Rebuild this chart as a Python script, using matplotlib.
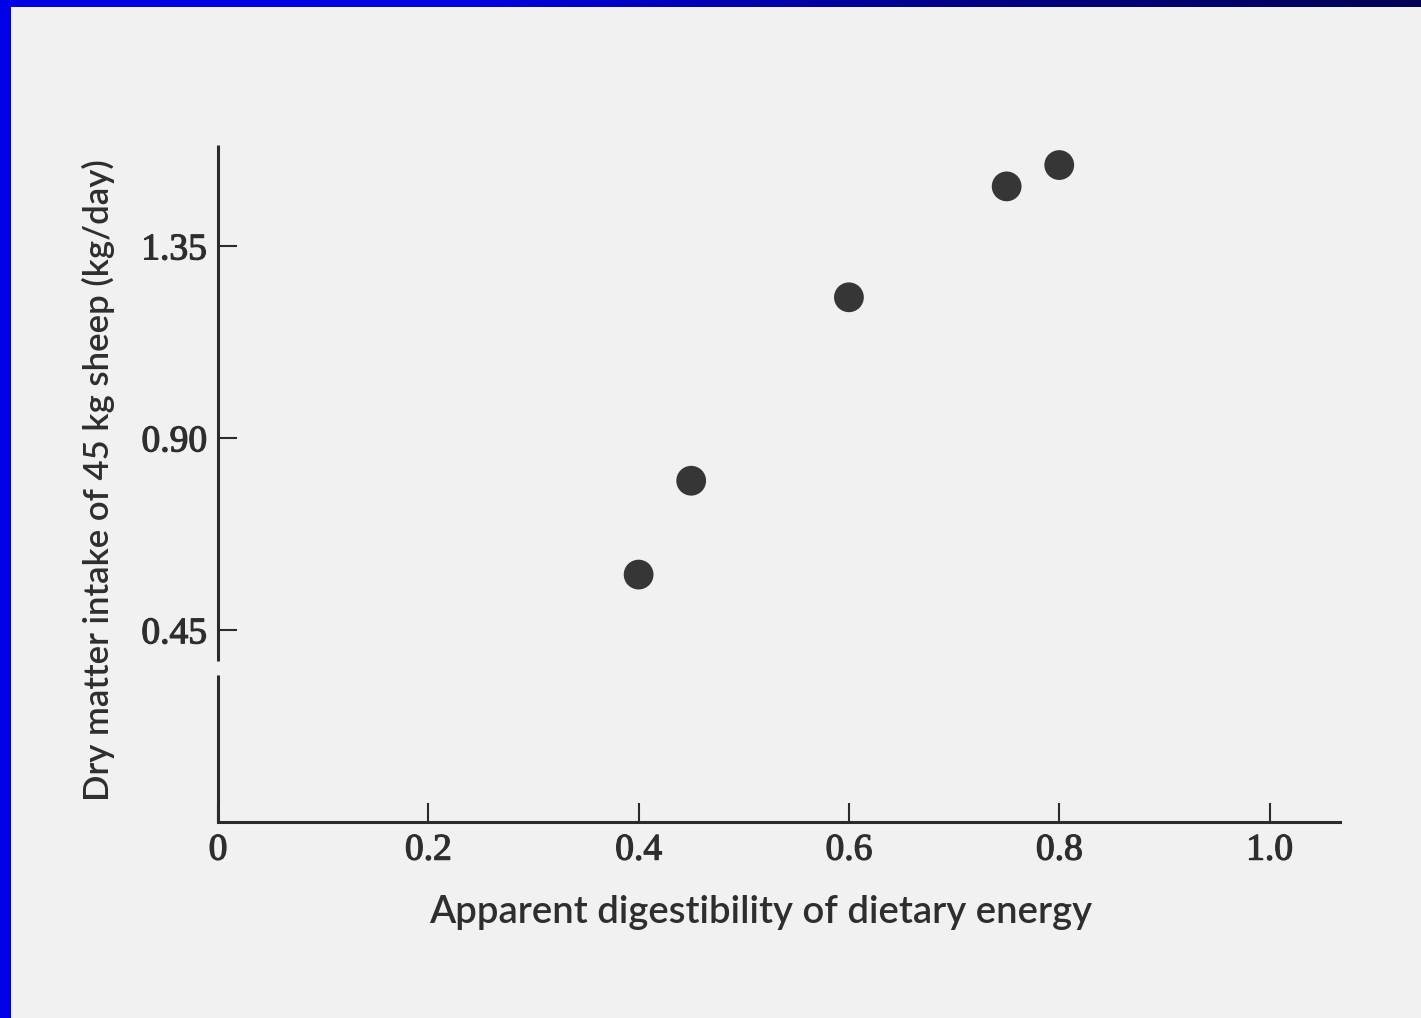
import numpy as np
import matplotlib
matplotlib.use("Agg")
import matplotlib.pyplot as plt
import matplotlib.patheffects as pe

# Digestibility of dietary energy vs. dry matter intake (45 kg sheep)
digestibility = [0.40, 0.45, 0.60, 0.75, 0.80]
intake = [0.58, 0.80, 1.23, 1.49, 1.54]

x_ticks = [0, 0.2, 0.4, 0.6, 0.8, 1.0]
x_tick_labels = ["0", "0.2", "0.4", "0.6", "0.8", "1.0"]
y_ticks = [0.45, 0.90, 1.35]
y_tick_labels = ["0.45", "0.90", "1.35"]

W, H, DPI = 1421, 1018, 100
ink = "#2b2b2b"
paper = "#f1f1f1"

fig = plt.figure(figsize=(W / DPI, H / DPI), dpi=DPI, facecolor=paper)

# slide frame: blue strip on the left and a blue-to-navy strip on top
frame = fig.add_axes([0, 0, 1, 1], zorder=-1)
frame.set_axis_off()
frame.add_patch(plt.Rectangle((0, 0), 11, H, color="#0000e6", lw=0))
grad = np.linspace(0, 1, 256)[None, :]
cmap = matplotlib.colors.LinearSegmentedColormap.from_list(
    "bar", ["#0000e6", "#0000e0", "#00008a", "#000055"])
frame.imshow(grad, extent=(0, W, 7, 0), aspect="auto", cmap=cmap)
frame.set_xlim(0, W)
frame.set_ylim(H, 0)

# plotting area in pixel terms
x0_px, x1_px = 218, 1340
y0_px, y1_px = 822, 145
xmax = 1.067
ymax = 1.587
ax = fig.add_axes([x0_px / W, (H - y0_px) / H,
                   (x1_px - x0_px) / W, (y0_px - y1_px) / H])
ax.set_facecolor("none")
ax.set_xlim(0, xmax)
ax.set_ylim(0, ymax)

ax.scatter(digestibility, intake, s=460, color="#363636", edgecolors="none",
           zorder=3)

for side in ("top", "right", "left"):
    ax.spines[side].set_visible(False)
ax.spines["bottom"].set_linewidth(2.2)
ax.spines["bottom"].set_color(ink)

# broken y axis
ax.plot([0, 0], [0, 0.345], color=ink, lw=2.2, clip_on=False,
        solid_capstyle="butt")
ax.plot([0, 0], [0.378, ymax], color=ink, lw=2.2, clip_on=False,
        solid_capstyle="butt")

thicken = [pe.withStroke(linewidth=0.9, foreground="#2e2e2e")]
num_font = dict(family="Liberation Serif", size=27, color="#2e2e2e")
ax.set_xticks(x_ticks)
ax.set_xticklabels(x_tick_labels, fontdict=num_font, path_effects=thicken)
ax.set_yticks(y_ticks)
ax.set_yticklabels(y_tick_labels, fontdict=num_font, path_effects=thicken)
ax.tick_params(axis="x", direction="in", length=14, width=1.5, color=ink,
               pad=8)
ax.tick_params(axis="y", direction="in", length=14, width=1.5, color=ink,
               pad=8)

ax.set_xlabel("Apparent digestibility of dietary energy",
              family="Lato", size=27.5, weight="semibold", color="#2e2e2e")
ax.xaxis.set_label_coords(0.484, -0.108)
ax.set_ylabel("Dry matter intake of 45 kg sheep (kg/day)",
              family="Lato", size=25, weight="semibold", color="#2e2e2e")
ax.yaxis.set_label_coords(-0.092, 0.505)

fig.savefig("out.png", dpi=DPI, facecolor=paper)
